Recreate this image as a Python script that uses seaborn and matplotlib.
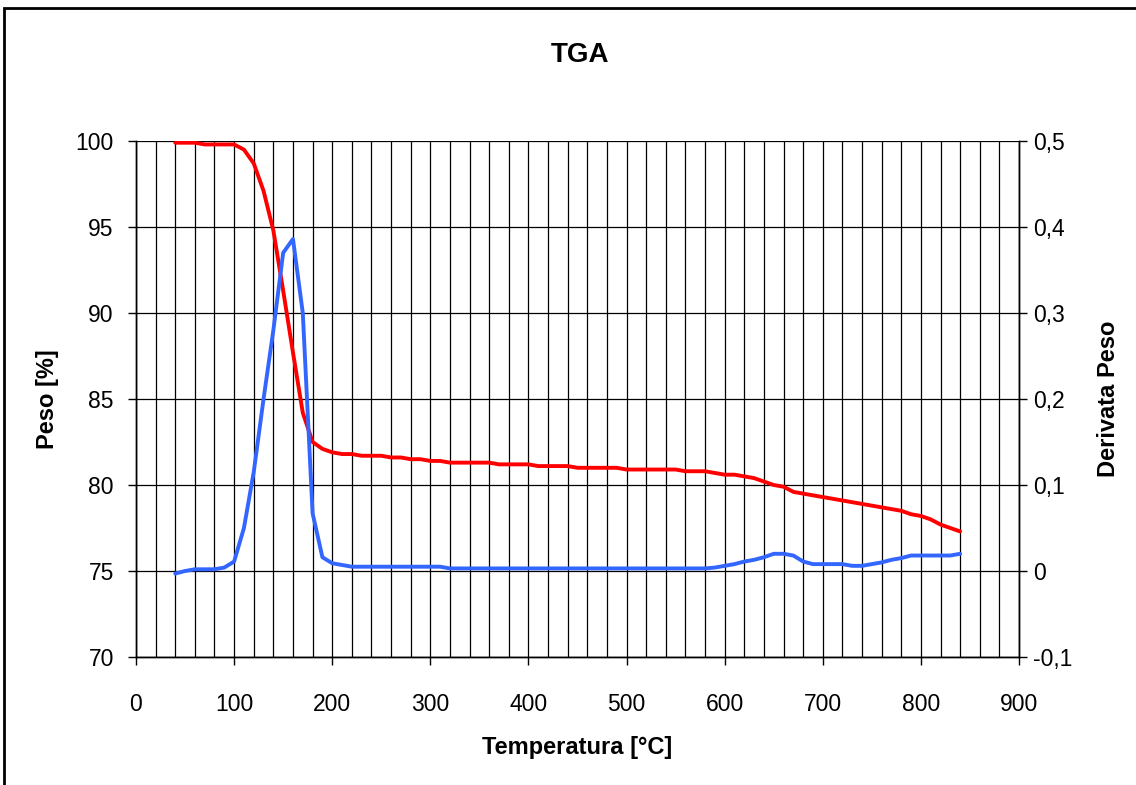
import matplotlib
matplotlib.use("Agg")
import matplotlib.pyplot as plt
import seaborn as sns
import numpy as np
import pandas as pd
from matplotlib.ticker import MultipleLocator, FixedLocator, FixedFormatter
from matplotlib.patches import Rectangle

temperature = list(range(40, 841, 10))

peso = [99.9, 99.9, 99.9, 99.8, 99.8, 99.8, 99.8, 99.5, 98.7, 97.1,
        94.8, 91.3, 87.7, 84.2, 82.5, 82.1, 81.9, 81.8, 81.8, 81.7,
        81.7, 81.7, 81.6, 81.6, 81.5, 81.5, 81.4, 81.4, 81.3, 81.3,
        81.3, 81.3, 81.3, 81.2, 81.2, 81.2, 81.2, 81.1, 81.1, 81.1,
        81.1, 81.0, 81.0, 81.0, 81.0, 81.0, 80.9, 80.9, 80.9, 80.9,
        80.9, 80.9, 80.8, 80.8, 80.8, 80.7, 80.6, 80.6, 80.5, 80.4,
        80.2, 80.0, 79.9, 79.6, 79.5, 79.4, 79.3, 79.2, 79.1, 79.0,
        78.9, 78.8, 78.7, 78.6, 78.5, 78.3, 78.2, 78.0, 77.7, 77.5,
        77.3]

derivata = [-0.003, 0.000, 0.002, 0.002, 0.002, 0.004, 0.011, 0.050, 0.115, 0.200,
            0.280, 0.370, 0.386, 0.300, 0.067, 0.016, 0.009, 0.007, 0.005, 0.005,
            0.005, 0.005, 0.005, 0.005, 0.005, 0.005, 0.005, 0.005, 0.003, 0.003,
            0.003, 0.003, 0.003, 0.003, 0.003, 0.003, 0.003, 0.003, 0.003, 0.003,
            0.003, 0.003, 0.003, 0.003, 0.003, 0.003, 0.003, 0.003, 0.003, 0.003,
            0.003, 0.003, 0.003, 0.003, 0.003, 0.004, 0.006, 0.008, 0.011, 0.013,
            0.016, 0.020, 0.020, 0.018, 0.011, 0.008, 0.008, 0.008, 0.008, 0.006,
            0.006, 0.008, 0.010, 0.013, 0.015, 0.018, 0.018, 0.018, 0.018, 0.018,
            0.020]

x_ticks = [0, 100, 200, 300, 400, 500, 600, 700, 800, 900]
left_ticks = [70, 75, 80, 85, 90, 95, 100]
right_ticks = [-0.1, 0.0, 0.1, 0.2, 0.3, 0.4, 0.5]
right_labels = ["-0,1", "0", "0,1", "0,2", "0,3", "0,4", "0,5"]

df = pd.DataFrame({"T": temperature, "Peso": peso, "Derivata": derivata})

sns.set_theme(style="white")
plt.rcParams["font.family"] = ["Liberation Sans", "DejaVu Sans"]
plt.rcParams["text.color"] = "black"
plt.rcParams["axes.labelcolor"] = "black"
plt.rcParams["xtick.color"] = "black"
plt.rcParams["ytick.color"] = "black"

fig = plt.figure(figsize=(11.36, 7.85), dpi=100)
ax = fig.add_axes([136/1136, 1-657/785, (1019-136)/1136, (657-141)/785])
ax2 = ax.twinx()

sns.lineplot(data=df, x="T", y="Peso", ax=ax, color="#FF0000", linewidth=2.8)
sns.lineplot(data=df, x="T", y="Derivata", ax=ax2, color="#3366FF", linewidth=2.8)

ax.set_xlim(0, 900)
ax.set_ylim(70, 100)
ax2.set_ylim(-0.1, 0.5)

ax.xaxis.set_major_locator(FixedLocator(x_ticks))
ax.xaxis.set_minor_locator(MultipleLocator(20))
ax.yaxis.set_major_locator(FixedLocator(left_ticks))
ax2.yaxis.set_major_locator(FixedLocator(right_ticks))
ax2.yaxis.set_major_formatter(FixedFormatter(right_labels))

ax.grid(True, which="both", axis="x", color="black", linewidth=0.9)
ax.grid(True, which="major", axis="y", color="black", linewidth=0.9)
ax2.grid(False)

for a in (ax, ax2):
    for s in a.spines.values():
        s.set_color("black")
        s.set_linewidth(1.0)
    a.spines["top"].set_visible(False)

ax.tick_params(axis="x", which="major", direction="out", length=6, width=1,
               color="black", labelcolor="black", labelsize=16.5, pad=20, bottom=True)
ax.tick_params(axis="x", which="minor", length=0)
ax.tick_params(axis="y", direction="out", length=6, width=1, color="black",
               labelcolor="black", labelsize=16.5, pad=10, left=True)
ax2.tick_params(axis="y", direction="out", length=6, width=1, color="black",
                labelcolor="black", labelsize=16.5, pad=4, right=True)

ax.set_xlabel("Temperatura [°C]", fontsize=17, fontweight="bold", labelpad=14, color="black")
ax.set_ylabel("Peso [%]", fontsize=17, fontweight="bold", labelpad=12, color="black")
ax2.set_ylabel("Derivata Peso", fontsize=17, fontweight="bold", labelpad=18, color="black")
ax2.yaxis.set_label_position("right")

fig.text(580/1136, 1-55/785, "TGA", ha="center", va="center",
         fontsize=20, fontweight="bold", color="black")

frame = Rectangle((4/1136, -0.1), 1.2, 1.1 - 8/785, transform=fig.transFigure,
                  fill=False, edgecolor="black", linewidth=2, clip_on=False)
fig.patches.append(frame)

fig.savefig("out.png", dpi=100)
